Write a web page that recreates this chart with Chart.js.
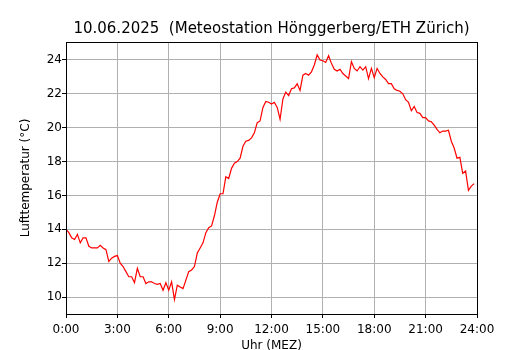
<!DOCTYPE html>
<html>
<head>
<meta charset="utf-8">
<script src="https://cdn.jsdelivr.net/npm/chart.js@4/dist/chart.umd.min.js"></script>
<style>
  html, body { margin: 0; padding: 0; background: #fff; }
  #wrap { width: 530px; height: 350px; }
</style>
</head>
<body>
<div id="wrap"><canvas id="chart" width="530" height="350"></canvas></div>
<script>
// 10-minute readings, 0:00 .. 23:50
const minutes = Array.from({ length: 144 }, (_, i) => i * 10);

const temperature = [
  14.0, 13.8, 13.5, 13.4, 13.7, 13.2, 13.5, 13.5, 13.0, 12.9, 12.9, 12.9,
  13.05, 12.9, 12.8, 12.1, 12.3, 12.4, 12.45, 12.0, 11.8, 11.5, 11.2, 11.2,
  10.85, 11.7, 11.2, 11.2, 10.8, 10.9, 10.9, 10.8, 10.75, 10.8, 10.4, 10.85,
  10.4, 10.9, 9.85, 10.7, 10.6, 10.5, 11.0, 11.5, 11.6, 11.8, 12.6, 12.9,
  13.2, 13.8, 14.1, 14.2, 14.8, 15.6, 16.1, 16.1, 17.1, 17.0, 17.6, 17.9,
  18.0, 18.2, 18.9, 19.2, 19.25, 19.4, 19.7, 20.3, 20.4, 21.2, 21.55, 21.5,
  21.4, 21.5, 21.2, 20.5, 21.7, 22.1, 21.9, 22.3, 22.35, 22.6, 22.2, 23.1,
  23.2, 23.1, 23.3, 23.7, 24.3, 24.0, 23.95, 23.85, 24.25, 23.8, 23.45, 23.35,
  23.45, 23.2, 23.05, 22.9, 23.9, 23.5, 23.35, 23.6, 23.4, 23.6, 22.9, 23.5,
  22.95, 23.5, 23.2, 23.0, 22.85, 22.6, 22.6, 22.3, 22.2, 22.15, 22.0, 21.65,
  21.5, 21.0, 21.25, 20.9, 20.85, 20.6, 20.6, 20.4, 20.35, 20.15, 19.9, 19.7,
  19.8, 19.8, 19.85, 19.2, 18.8, 18.2, 18.25, 17.3, 17.45, 16.3, 16.55, 16.7
];

const xTicks = [0, 180, 360, 540, 720, 900, 1080, 1260, 1440];
const yTicks = [10, 12, 14, 16, 18, 20, 22, 24];

const titleText = '10.06.2025  (Meteostation Hönggerberg/ETH Zürich)';
const fontFamily = '"DejaVu Sans", sans-serif';

// frame around the plot plus a title centred over the plot area
const frame = {
  id: 'frame',
  afterDraw(chart) {
    const { ctx, chartArea } = chart;
    ctx.save();
    ctx.strokeStyle = '#000';
    ctx.lineWidth = 1;
    ctx.strokeRect(Math.round(chartArea.left) + 0.5, Math.round(chartArea.top) + 0.5,
      Math.round(chartArea.right - chartArea.left), Math.round(chartArea.bottom - chartArea.top));
    ctx.fillStyle = '#000';
    ctx.font = `15px ${fontFamily}`;
    ctx.textAlign = 'center';
    ctx.textBaseline = 'middle';
    ctx.fillText(titleText, (chartArea.left + chartArea.right) / 2, 29);
    ctx.restore();
  }
};

function formatTime(value) {
  return `${Math.floor(value / 60)}:00`;
}

new Chart(document.getElementById('chart'), {
  type: 'line',
  data: {
    datasets: [{
      data: minutes.map((m, i) => ({ x: m, y: temperature[i] })),
      borderColor: '#ff0000',
      borderWidth: 1.2,
      pointRadius: 0,
      tension: 0,
      fill: false
    }]
  },
  options: {
    responsive: false,
    animation: false,
    layout: { padding: { left: 0, right: 53, top: 42, bottom: 0 } },
    plugins: {
      legend: { display: false },
      tooltip: { enabled: false },
      title: { display: false }
    },
    scales: {
      x: {
        type: 'linear',
        min: 0,
        max: 1440,
        afterBuildTicks(scale) { scale.ticks = xTicks.map((v) => ({ value: v })); },
        afterFit(scale) { scale.height = 36; },
        ticks: {
          color: '#000',
          font: { family: fontFamily, size: 12 },
          padding: 5,
          maxRotation: 0,
          autoSkip: false,
          callback: formatTime
        },
        grid: { color: '#b0b0b0', lineWidth: 1, tickColor: '#000', tickLength: 4 },
        border: { display: false },
        title: {
          display: true,
          text: 'Uhr (MEZ)',
          color: '#000',
          font: { family: fontFamily, size: 12 },
          padding: { top: 0, bottom: -3 }
        }
      },
      y: {
        type: 'linear',
        min: 9.0,
        max: 25.06,
        afterBuildTicks(scale) { scale.ticks = yTicks.map((v) => ({ value: v })); },
        afterFit(scale) { scale.width = 66; },
        ticks: {
          color: '#000',
          font: { family: fontFamily, size: 12 },
          padding: 0,
          autoSkip: false
        },
        grid: { color: '#b0b0b0', lineWidth: 1, tickColor: '#000', tickLength: 4 },
        border: { display: false },
        title: {
          display: true,
          text: 'Lufttemperatur (°C)',
          color: '#000',
          font: { family: fontFamily, size: 12 },
          padding: { top: 19, bottom: 0 }
        }
      }
    }
  },
  plugins: [frame]
});
</script>
</body>
</html>
